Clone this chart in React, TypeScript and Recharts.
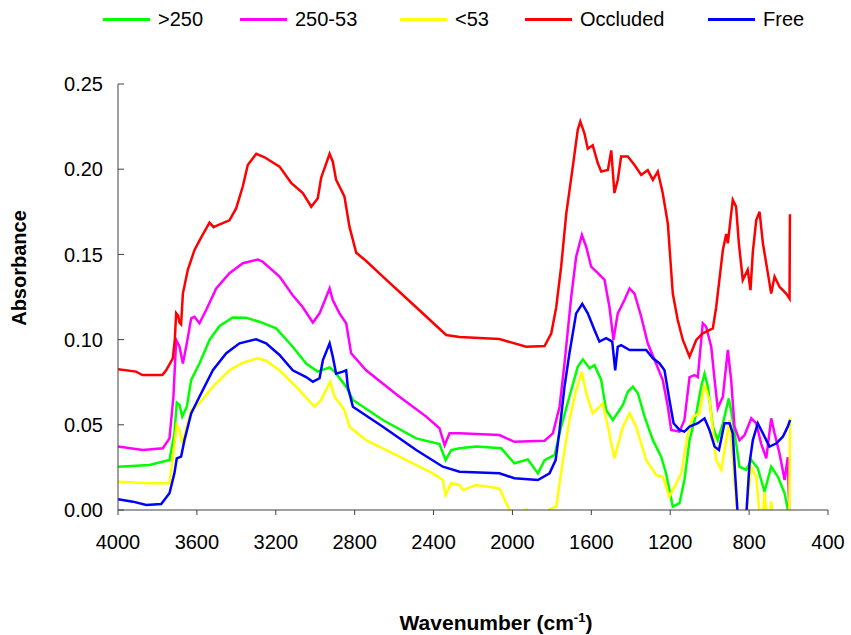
import { LineChart, Line, XAxis, YAxis } from "recharts";

const FONT = '"Liberation Sans", Arial, Helvetica, sans-serif';

// wavenumber (cm-1), absorbance
const over250: [number, number][] = [
  [4000, 0.0254], [3840, 0.0264], [3739, 0.0293], [3714, 0.045], [3702, 0.063], [3688, 0.0616],
  [3674, 0.0548], [3651, 0.0606], [3629, 0.0763], [3587, 0.086], [3536, 0.0998], [3485, 0.108],
  [3418, 0.113], [3350, 0.1128], [3283, 0.1105], [3198, 0.1066], [3114, 0.0958], [3046, 0.086],
  [2987, 0.0812], [2927, 0.0837], [2902, 0.0812], [2843, 0.0724], [2809, 0.0646], [2657, 0.0528],
  [2488, 0.042], [2370, 0.0387], [2339, 0.0293], [2310, 0.0352], [2268, 0.0362], [2184, 0.0372],
  [2057, 0.0362], [1990, 0.0274], [1922, 0.0297], [1871, 0.0215], [1837, 0.0293], [1786, 0.0323],
  [1753, 0.0489], [1711, 0.0665], [1669, 0.084], [1643, 0.0884], [1609, 0.0831], [1584, 0.085],
  [1550, 0.0763], [1525, 0.0587], [1491, 0.0528], [1440, 0.0616], [1415, 0.0694], [1389, 0.0724],
  [1364, 0.0685], [1330, 0.0548], [1288, 0.041], [1246, 0.0313], [1221, 0.0215], [1187, 0.002],
  [1153, 0.004], [1128, 0.0176], [1102, 0.041], [1068, 0.0567], [1043, 0.0724], [1026, 0.08],
  [1009, 0.0724], [984, 0.0489], [959, 0.041], [933, 0.0509], [903, 0.0655], [883, 0.0528],
  [849, 0.0254], [815, 0.0235], [789, 0.0293], [756, 0.0245], [722, 0.0107], [688, 0.0254],
  [654, 0.0195], [620, 0.0098], [600, -0.002],
];

const from250to53: [number, number][] = [
  [4000, 0.0372], [3874, 0.0352], [3773, 0.0362], [3739, 0.042], [3719, 0.0665], [3705, 0.0998],
  [3688, 0.0958], [3671, 0.086], [3651, 0.0978], [3629, 0.1125], [3612, 0.1134], [3587, 0.1096],
  [3553, 0.1174], [3502, 0.13], [3435, 0.139], [3367, 0.1448], [3291, 0.147], [3266, 0.1457],
  [3181, 0.137], [3114, 0.126], [3063, 0.119], [3012, 0.11], [2978, 0.1154], [2927, 0.13],
  [2911, 0.1232], [2877, 0.1154], [2843, 0.1096], [2818, 0.092], [2742, 0.082], [2573, 0.0665],
  [2437, 0.0548], [2370, 0.048], [2344, 0.038], [2319, 0.045], [2268, 0.045], [2066, 0.044],
  [1990, 0.04], [1837, 0.0407], [1795, 0.045], [1761, 0.0606], [1736, 0.086], [1702, 0.125],
  [1677, 0.1486], [1648, 0.1614], [1626, 0.1545], [1601, 0.1428], [1567, 0.139], [1533, 0.135],
  [1508, 0.119], [1488, 0.0998], [1466, 0.1154], [1432, 0.1232], [1406, 0.13], [1381, 0.127],
  [1347, 0.1134], [1314, 0.0978], [1279, 0.088], [1238, 0.0763], [1212, 0.0606], [1195, 0.047],
  [1153, 0.046], [1128, 0.0528], [1102, 0.078], [1077, 0.0792], [1060, 0.078], [1035, 0.1096],
  [1018, 0.1076], [992, 0.0958], [975, 0.0763], [959, 0.0597], [933, 0.0665], [908, 0.0939],
  [891, 0.0763], [874, 0.0489], [849, 0.041], [823, 0.044], [789, 0.0538], [764, 0.0509],
  [739, 0.039], [713, 0.0303], [688, 0.0538], [671, 0.045], [646, 0.0333], [620, 0.0176],
  [604, 0.031], [596, -0.002],
];

const under53: [number, number][] = [
  [4000, 0.0166], [3840, 0.0157], [3739, 0.0157], [3719, 0.0333], [3702, 0.0499], [3688, 0.047],
  [3674, 0.039], [3651, 0.0489], [3629, 0.0587], [3587, 0.0626], [3519, 0.0724], [3435, 0.082],
  [3367, 0.0865], [3291, 0.089], [3249, 0.0876], [3181, 0.082], [3097, 0.0724], [3004, 0.0606],
  [2970, 0.0646], [2924, 0.0753], [2902, 0.0665], [2852, 0.0587], [2826, 0.0489], [2742, 0.041],
  [2573, 0.0313], [2404, 0.0215], [2353, 0.0176], [2339, 0.0088], [2310, 0.0157], [2268, 0.0147],
  [2251, 0.0117], [2184, 0.0147], [2066, 0.0127], [2023, 0.002], [2000, -0.004], [1950, -0.003],
  [1930, 0.0005], [1900, -0.004], [1830, -0.004], [1812, 0.0005], [1778, 0.002], [1744, 0.0293],
  [1711, 0.0528], [1677, 0.0704], [1648, 0.0812], [1626, 0.0685], [1593, 0.0567], [1542, 0.0626],
  [1516, 0.0489], [1483, 0.0303], [1440, 0.0489], [1406, 0.0567], [1373, 0.0489], [1322, 0.0293],
  [1271, 0.0205], [1238, 0.0195], [1204, 0.0078], [1178, 0.0137], [1144, 0.0215], [1111, 0.045],
  [1085, 0.0548], [1051, 0.0567], [1026, 0.0734], [1001, 0.0646], [967, 0.0293], [941, 0.0235],
  [916, 0.041], [899, 0.0528], [874, 0.0176], [860, -0.004], [815, -0.004], [789, 0.0254],
  [764, 0.0195], [745, -0.004], [730, -0.004], [722, 0.0107], [710, -0.004], [695, -0.004],
  [688, 0.005], [680, -0.004], [600, -0.004], [596, 0.0], [592, 0.054],
];

const occluded: [number, number][] = [
  [4000, 0.0826], [3908, 0.0812], [3876, 0.0792], [3775, 0.0792], [3756, 0.082], [3722, 0.089],
  [3712, 0.1], [3705, 0.1155], [3695, 0.114], [3688, 0.11], [3680, 0.109], [3671, 0.127],
  [3646, 0.141], [3612, 0.1526], [3578, 0.16], [3536, 0.1686], [3515, 0.166], [3502, 0.1667],
  [3435, 0.17], [3401, 0.177], [3367, 0.19], [3342, 0.2025], [3299, 0.209], [3257, 0.207],
  [3181, 0.2015], [3122, 0.192], [3063, 0.186], [3020, 0.178], [2987, 0.183], [2970, 0.195],
  [2927, 0.209], [2911, 0.2044], [2894, 0.1937], [2852, 0.184], [2826, 0.166], [2792, 0.151],
  [2740, 0.146], [2657, 0.137], [2488, 0.119], [2336, 0.1027], [2268, 0.1015], [2066, 0.1003],
  [1930, 0.0958], [1837, 0.0962], [1803, 0.1037], [1778, 0.119], [1753, 0.1428], [1727, 0.174],
  [1694, 0.2015], [1669, 0.223], [1656, 0.228], [1635, 0.221], [1618, 0.212], [1593, 0.214],
  [1567, 0.2035], [1550, 0.1986], [1516, 0.1995], [1499, 0.211], [1483, 0.186], [1466, 0.1937],
  [1449, 0.2074], [1415, 0.2074], [1381, 0.2025], [1347, 0.1966], [1314, 0.1995], [1288, 0.1937],
  [1263, 0.1986], [1238, 0.186], [1212, 0.168], [1187, 0.127], [1162, 0.1115], [1136, 0.0998],
  [1102, 0.09], [1068, 0.0998], [1035, 0.1037], [984, 0.1066], [967, 0.119], [933, 0.1526],
  [916, 0.162], [908, 0.1565], [883, 0.182], [866, 0.178], [852, 0.1565], [832, 0.135],
  [807, 0.141], [793, 0.129], [781, 0.1516], [764, 0.17], [747, 0.175], [730, 0.1565],
  [705, 0.139], [688, 0.127], [671, 0.137], [646, 0.131], [612, 0.127], [595, 0.124], [593, 0.1736],
];

const free: [number, number][] = [
  [4000, 0.0063], [3924, 0.0049], [3857, 0.0029], [3781, 0.0035], [3739, 0.0098], [3714, 0.0215],
  [3702, 0.0303], [3680, 0.0313], [3663, 0.041], [3629, 0.0567], [3587, 0.0665], [3519, 0.082],
  [3451, 0.092], [3384, 0.0978], [3299, 0.1002], [3249, 0.0978], [3181, 0.091], [3114, 0.082],
  [3046, 0.078], [3012, 0.0753], [2978, 0.0773], [2961, 0.088], [2927, 0.0978], [2911, 0.09],
  [2894, 0.08], [2860, 0.0812], [2843, 0.082], [2835, 0.0724], [2809, 0.0606], [2657, 0.0489],
  [2488, 0.0352], [2353, 0.0254], [2268, 0.0225], [2066, 0.0215], [1990, 0.0186], [1871, 0.0176],
  [1812, 0.0215], [1781, 0.0293], [1761, 0.047], [1736, 0.0724], [1711, 0.092], [1677, 0.1154],
  [1646, 0.121], [1618, 0.1154], [1584, 0.1056], [1559, 0.0988], [1525, 0.1008], [1494, 0.0988],
  [1479, 0.082], [1466, 0.0958], [1449, 0.0968], [1406, 0.0939], [1322, 0.0939], [1288, 0.089],
  [1254, 0.086], [1229, 0.082], [1204, 0.0646], [1183, 0.0509], [1153, 0.047], [1128, 0.046],
  [1102, 0.0489], [1060, 0.0509], [1026, 0.0538], [1001, 0.047], [975, 0.0372], [953, 0.0352],
  [925, 0.0509], [899, 0.0509], [883, 0.045], [869, 0.0176], [857, -0.004], [815, -0.004],
  [798, 0.0274], [781, 0.041], [756, 0.0509], [730, 0.045], [697, 0.0372], [663, 0.039],
  [629, 0.043], [604, 0.0489], [592, 0.0528],
];

const xTicks = [4000, 3600, 3200, 2800, 2400, 2000, 1600, 1200, 800, 400];
const yTicks = [0, 0.05, 0.1, 0.15, 0.2, 0.25];

const series = [
  { name: ">250", color: "#00ff00", points: over250 },
  { name: "250-53", color: "#ff00ff", points: from250to53 },
  { name: "<53", color: "#ffff00", points: under53 },
  { name: "Occluded", color: "#ff0000", points: occluded },
  { name: "Free", color: "#0000ff", points: free },
];

// left edge of each legend entry's swatch
const legendLeft = [103, 240, 400, 525, 708];

const toRows = (pts: [number, number][]) => pts.map(([wn, abs]) => ({ wn, abs }));

function XTitle({ viewBox }: any) {
  const cx = viewBox.x + viewBox.width / 2 + 23;
  const y = viewBox.y + 120;
  return (
    <text x={cx} y={y} textAnchor="middle" fontFamily={FONT} fontWeight="bold" fontSize={21} fill="#000">
      <tspan>Wavenumber (cm</tspan>
      <tspan dy={-8} fontSize={13}>-1</tspan>
      <tspan dy={8}>)</tspan>
    </text>
  );
}

function YTitle({ viewBox }: any) {
  const x = 26;
  const y = viewBox.y + viewBox.height / 2 - 29;
  return (
    <text
      x={x}
      y={y}
      transform={`rotate(-90 ${x} ${y})`}
      textAnchor="middle"
      fontFamily={FONT}
      fontWeight="bold"
      fontSize={20}
      fill="#000"
    >
      Absorbance
    </text>
  );
}

function LegendRow() {
  return (
    <>
      {series.map((s, i) => (
        <div
          key={s.name}
          style={{
            position: "absolute",
            left: legendLeft[i],
            top: 8,
            display: "flex",
            alignItems: "center",
            fontFamily: FONT,
            fontSize: 20,
            lineHeight: "22px",
            color: "#000",
            whiteSpace: "nowrap",
          }}
        >
          <span style={{ display: "inline-block", width: 47, height: 3, background: s.color, marginRight: 8 }} />
          <span>{s.name}</span>
        </div>
      ))}
    </>
  );
}

export default function App() {
  return (
    <div style={{ position: "absolute", left: 0, top: 0, width: 851, height: 635, background: "#fff" }}>
      <LineChart width={851} height={635} margin={{ top: 84, right: 23, bottom: 0, left: 0 }}>
        <XAxis
          type="number"
          dataKey="wn"
          domain={[400, 4000]}
          reversed
          allowDataOverflow
          ticks={xTicks}
          interval={0}
          height={125}
          tickSize={5}
          tickMargin={20}
          stroke="#404040"
          tick={{ fill: "#000", fontSize: 20, fontFamily: FONT }}
          label={<XTitle />}
        />
        <YAxis
          type="number"
          domain={[0, 0.25]}
          allowDataOverflow
          ticks={yTicks}
          interval={0}
          width={118}
          tickSize={-6}
          tickMargin={21}
          stroke="#404040"
          tickFormatter={(v: number) => v.toFixed(2)}
          tick={{ fill: "#000", fontSize: 20, fontFamily: FONT }}
          label={<YTitle />}
        />
        {series.map((s) => (
          <Line
            key={s.name}
            data={toRows(s.points)}
            dataKey="abs"
            name={s.name}
            type="linear"
            stroke={s.color}
            strokeWidth={2.5}
            dot={false}
            activeDot={false}
            isAnimationActive={false}
          />
        ))}
      </LineChart>
      <LegendRow />
    </div>
  );
}
